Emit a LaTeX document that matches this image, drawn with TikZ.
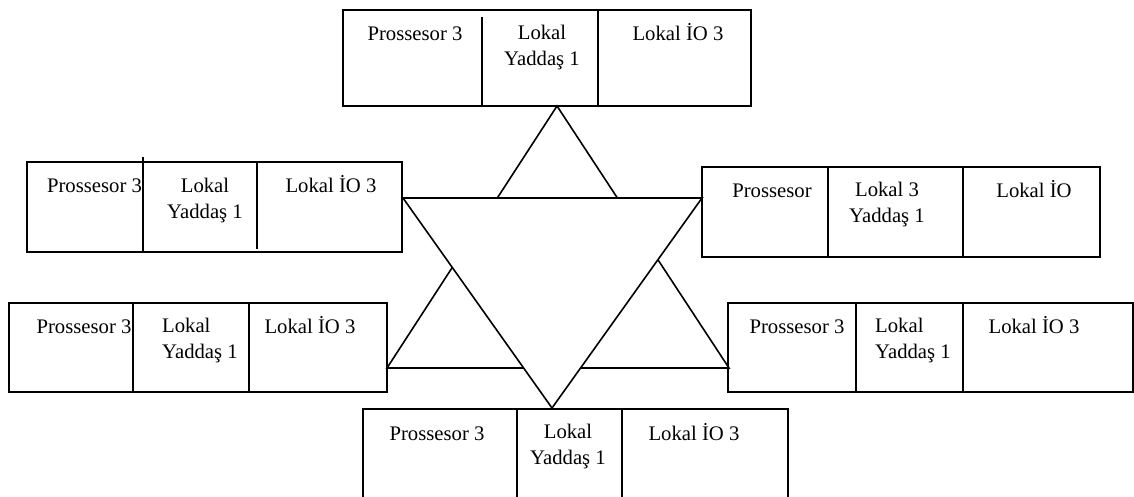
\documentclass[tikz,border=0pt]{standalone}
\usepackage{fontspec}
\setmainfont{Liberation Serif}
\begin{document}
\begin{tikzpicture}[x=1pt,y=-1pt,
  line/.style={line width=1.6pt,black},
  box/.style={line, draw, rectangle, inner sep=0pt, outer sep=0pt},
  txt/.style={inner sep=0pt, font=\fontsize{20.7}{25.5}\selectfont, anchor=base, align=center},
  txtl/.style={txt, anchor=base west, align=left}]
\clip (0,0) rectangle (1134,496);

% vertices of the two interlaced triangles
\coordinate (ua) at (557,106);
\coordinate (ul) at (387,368);
\coordinate (ur) at (729,368);
\coordinate (dl) at (403,198);
\coordinate (dr) at (702,198);
\coordinate (da) at (552,408);

% upward triangle, then the downward one laid over it
\draw[line, line join=miter] (ua) -- (ur) -- (ul) -- cycle;
\draw[line, line join=miter, fill=white] (dl) -- (dr) -- (da) -- cycle;

% the six nodes
\node[box, minimum width=408pt, minimum height=96pt] (top) at (547,58) {};
\node[box, minimum width=375pt, minimum height=90pt] (lu)  at (214.5,207) {};
\node[box, minimum width=398pt, minimum height=90pt] (ru)  at (901,212) {};
\node[box, minimum width=378pt, minimum height=89pt] (ll)  at (198,347.5) {};
\node[box, minimum width=405pt, minimum height=89pt] (rl)  at (930.5,347.5) {};
\node[box, minimum width=425pt, minimum height=110pt] (bot) at (575.5,464) {};

% cell dividers
\draw[line] (482,17)  -- (482,106);
\draw[line] (598,10)  -- (598,106);
\draw[line] (143,157) -- (143,252);
\draw[line] (257,162) -- (257,249);
\draw[line] (828,167) -- (828,257);
\draw[line] (963,167) -- (963,257);
\draw[line] (133,303) -- (133,392);
\draw[line] (249,303) -- (249,392);
\draw[line] (856,303) -- (856,392);
\draw[line] (963,303) -- (963,392);
\draw[line] (517,409) -- (517,500);
\draw[line] (622,409) -- (622,500);

% labels (two-line labels are placed by the baseline of their last line)
\node[txt] (t1) at (415,40) {Prossesor 3};
\node[txt] (t2) at (542,65) {Lokal\\Yaddaş 1};
\node[txt] (t3) at (678,40) {Lokal İO 3};

\node[txt] (a1) at (94.5,192) {Prossesor 3};
\node[txt] (a2) at (205,218) {Lokal\\Yaddaş 1};
\node[txt] (a3) at (331,192) {Lokal İO 3};

\node[txt] (b1) at (772,197) {Prossesor};
\node[txt] (b2) at (887,222) {Lokal 3\\Yaddaş 1};
\node[txt] (b3) at (1034,197) {Lokal İO};

\node[txt]  (c1) at (84,333) {Prossesor 3};
\node[txtl] (c2) at (162,358) {Lokal\\Yaddaş 1};
\node[txt]  (c3) at (310,333) {Lokal İO 3};

\node[txt]  (d1) at (797,333) {Prossesor 3};
\node[txtl] (d2) at (875,358) {Lokal\\Yaddaş 1};
\node[txt]  (d3) at (1034,333) {Lokal İO 3};

\node[txt] (e1) at (437,440) {Prossesor 3};
\node[txt] (e2) at (568,464) {Lokal\\Yaddaş 1};
\node[txt] (e3) at (694,440) {Lokal İO 3};
\end{tikzpicture}
\end{document}
